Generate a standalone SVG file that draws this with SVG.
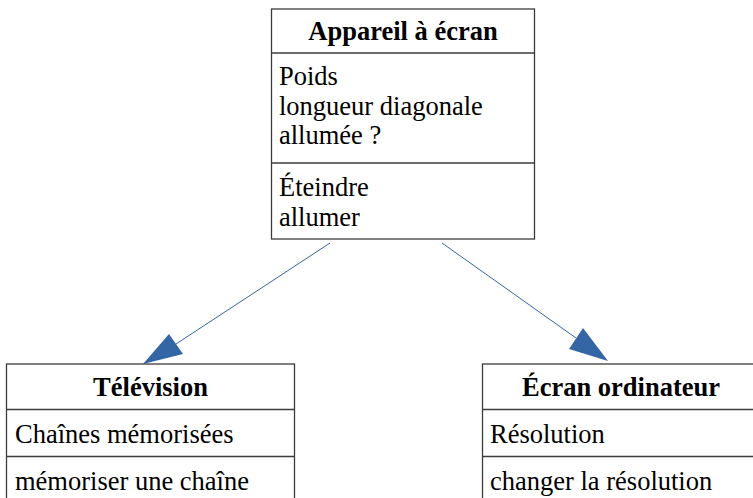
<svg xmlns="http://www.w3.org/2000/svg" width="753" height="498" viewBox="0 0 753 498">
<style>
.box{fill:#fff;stroke:#3c3c3c;stroke-width:1.3}
.sep{stroke:#3c3c3c;stroke-width:1.3}
.t{font-family:"Liberation Serif","Times New Roman",serif;font-size:26.5px;fill:#000}
.b{font-weight:bold;text-anchor:middle}
.conn{stroke:#3465a4;stroke-width:1;fill:none}
.head{fill:#3465a4;stroke:none}
</style>
<rect width="753" height="498" fill="#fff"/>
<g id="connectors">
<line class="conn" x1="330" y1="243" x2="176" y2="344"/>
<polygon class="head" points="143,364 169,334 183,354"/>
<line class="conn" x1="442" y1="243" x2="576" y2="338"/>
<polygon class="head" points="608,361 583,328 569,349"/>
</g>
<g id="appareil">
<rect class="box" x="271.5" y="9" width="263" height="230"/>
<line class="sep" x1="271.5" y1="53" x2="534.5" y2="53"/>
<line class="sep" x1="271.5" y1="163" x2="534.5" y2="163"/>
<text class="t b" x="403" y="40">Appareil à écran</text>
<text class="t" x="279" y="85">Poids</text>
<text class="t" x="279" y="114.5">longueur diagonale</text>
<text class="t" x="279" y="144">allumée ?</text>
<text class="t" x="279" y="196">Éteindre</text>
<text class="t" x="279" y="225.5">allumer</text>
</g>
<g id="television">
<rect class="box" x="6.5" y="364" width="288" height="150"/>
<line class="sep" x1="6.5" y1="409.5" x2="294.5" y2="409.5"/>
<line class="sep" x1="6.5" y1="456.5" x2="294.5" y2="456.5"/>
<text class="t b" x="150.5" y="396">Télévision</text>
<text class="t" x="15" y="443">Chaînes mémorisées</text>
<text class="t" x="15" y="490">mémoriser une chaîne</text>
</g>
<g id="ecran">
<rect class="box" x="482.5" y="364" width="280" height="150"/>
<line class="sep" x1="482.5" y1="409.5" x2="762.5" y2="409.5"/>
<line class="sep" x1="482.5" y1="456.5" x2="762.5" y2="456.5"/>
<text class="t b" x="621" y="396">Écran ordinateur</text>
<text class="t" x="490" y="443">Résolution</text>
<text class="t" x="490" y="490">changer la résolution</text>
</g>
</svg>
